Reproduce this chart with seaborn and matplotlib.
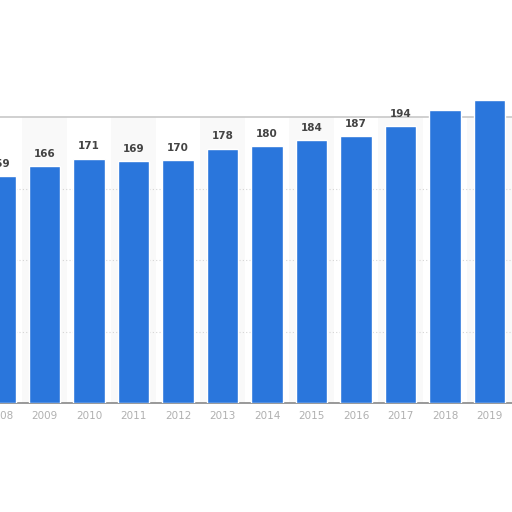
import matplotlib
matplotlib.use("Agg")
import matplotlib.pyplot as plt
import seaborn as sns
import pandas as pd

years = ["2008", "2009", "2010", "2011", "2012", "2013", "2014",
         "2015", "2016", "2017", "2018", "2019"]
values = [159, 166, 171, 169, 170, 178, 180, 184, 187, 194, 205, 212]
shown_labels = 10  # only the first ten value labels are readable

df = pd.DataFrame({"year": years, "value": values})

sns.set_style("white")
plt.rcParams['font.family'] = ['DejaVu Sans']

fig = plt.figure(figsize=(5.12, 5.12), dpi=100)
ax = fig.add_axes([-0.0435, 0.213, 1.043, 0.787])

# faint alternating column bands
for i in range(len(years)):
    if i % 2 == 1:
        ax.axvspan(i - 0.5, i + 0.5, ymin=0, ymax=200 / 282,
                   color="#f9f9f9", zorder=0, lw=0)

sns.barplot(data=df, x="year", y="value", color="#2a76dc",
            saturation=1, width=0.7, ax=ax, zorder=3)

for yv in [50, 100, 150]:
    ax.axhline(yv, color="#d5d5d5", lw=0.8, ls=(0, (1, 2)), zorder=1)
ax.axhline(200, color="#c8c8c8", lw=1.2, zorder=1)

for i in range(shown_labels):
    ax.text(i, values[i] + 5, str(values[i]), ha="center", va="bottom",
            fontsize=7.5, fontweight="bold", color="#444444", zorder=4)

ax.set_xlim(-0.5, 11.5)
ax.set_ylim(0, 282)
ax.set_xlabel("")
ax.set_ylabel("")
ax.set_yticks([])
ax.tick_params(axis="x", length=0, labelsize=7.5, labelcolor="#b0b0b0", pad=6)
for side in ["top", "left", "right"]:
    ax.spines[side].set_visible(False)
ax.spines["bottom"].set_color("#888888")
ax.spines["bottom"].set_linewidth(1.2)

fig.savefig("out.png", dpi=100)
